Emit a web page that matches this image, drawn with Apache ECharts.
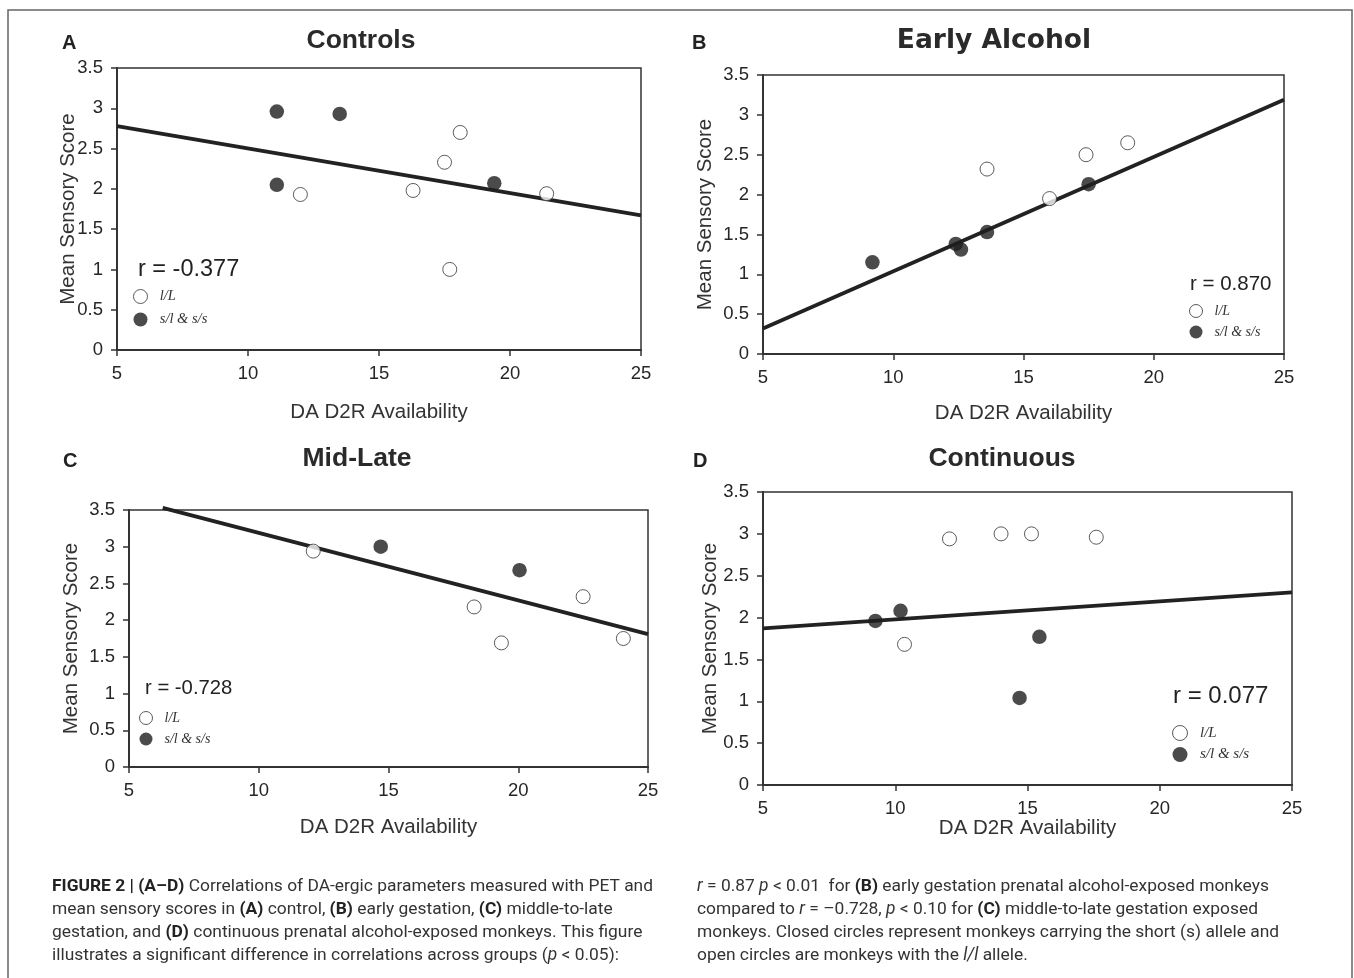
<!DOCTYPE html>
<html>
<head>
<meta charset="utf-8">
<script src="https://cdn.jsdelivr.net/npm/echarts@6/dist/echarts.min.js"></script>
<style>
html,body{margin:0;padding:0;background:#fff;}
#chart{width:1354px;height:978px;}
</style>
</head>
<body>
<div id="chart"></div>
<script>
// ---------- data ----------
const xTicks = [5, 10, 15, 20, 25];
const yTicks = [0, 0.5, 1, 1.5, 2, 2.5, 3, 3.5];
const legendNames = ['l/L', 's/l & s/s'];

const panelLetters = ['A', 'B', 'C', 'D'];
const panelTitles = ['Controls', 'Early Alcohol', 'Mid-Late', 'Continuous'];
const rLabels = ['r = -0.377', 'r = 0.870', 'r = -0.728', 'r = 0.077'];

// open circles (l/L) and filled circles (s/l & s/s): [DA D2R availability, mean sensory score]
const controlsOpen = [[12.0, 1.93], [16.3, 1.98], [17.5, 2.33], [18.1, 2.70], [21.4, 1.94], [17.7, 1.00]];
const controlsFilled = [[11.1, 2.96], [13.5, 2.93], [11.1, 2.05], [19.4, 2.07]];
const controlsFit = [[5, 2.78], [25, 1.67]];

const earlyOpen = [[13.6, 2.32], [16.0, 1.95], [17.4, 2.50], [19.0, 2.65]];
const earlyFilled = [[9.2, 1.15], [12.4, 1.38], [12.6, 1.31], [13.6, 1.53], [17.5, 2.13]];
const earlyFit = [[5, 0.32], [25, 3.19]];

const midLateOpen = [[12.1, 2.94], [18.3, 2.18], [19.35, 1.69], [22.5, 2.32], [24.05, 1.75]];
const midLateFilled = [[14.7, 3.00], [20.05, 2.68]];
const midLateFit = [[6.3, 3.53], [25, 1.81]];

const contOpen = [[10.35, 1.68], [12.05, 2.94], [14.0, 3.00], [15.15, 3.00], [17.6, 2.96]];
const contFilled = [[9.25, 1.96], [10.2, 2.08], [15.45, 1.77], [14.7, 1.04]];
const contFit = [[5, 1.87], [25, 2.30]];

const openSets = [controlsOpen, earlyOpen, midLateOpen, contOpen];
const filledSets = [controlsFilled, earlyFilled, midLateFilled, contFilled];
const fitSets = [controlsFit, earlyFit, midLateFit, contFit];

const xName = 'DA D2R Availability';
const yName = 'Mean Sensory Score';

// ---------- layout ----------
const grids = [
  {left: 117, top: 68, width: 524, height: 282},
  {left: 763, top: 75, width: 521, height: 279},
  {left: 129, top: 510, width: 519, height: 257},
  {left: 763, top: 492, width: 529, height: 293}
];
const xNameGaps = [52, 49, 50, 33];
const yNameGaps = [38, 47, 47, 42];
const legendPos = [
  {left: 133, top: 289, size: 14, font: 14.5, gap: 8},
  {left: 1189, top: 304, size: 13, font: 14, gap: 7},
  {left: 139, top: 711, size: 13, font: 14, gap: 7},
  {left: 1172, top: 725, size: 15, font: 15, gap: 6}
];
const rPos = [
  {x: 138, y: 270, size: 23.5},
  {x: 1190, y: 284, size: 20.5},
  {x: 145, y: 688, size: 20.3},
  {x: 1173, y: 696, size: 24}
];
const letterPos = [[62, 43], [692, 43], [63, 461], [693, 461]];
const titlePos = [[361, 41], [994, 41], [357, 459], [1002, 459]];

const sansFont = '"Liberation Sans", Arial, sans-serif';
const ink = '#262626';

const option = {
  backgroundColor: '#fff',
  animation: false,
  grid: grids.map(g => Object.assign({show: true, borderColor: '#333', borderWidth: 1.5, backgroundColor: 'transparent'}, g)),
  xAxis: grids.map((g, i) => ({
    gridIndex: i, type: 'value', min: xTicks[0], max: xTicks[xTicks.length - 1], interval: 5,
    name: xName, nameLocation: 'middle', nameGap: xNameGaps[i], nameMoveOverlap: false,
    nameTextStyle: {fontFamily: sansFont, fontSize: 20.5, color: '#333'},
    axisLine: {show: true, onZero: false, lineStyle: {color: '#333', width: 2}},
    axisTick: {show: true, inside: false, length: 6, lineStyle: {color: '#333', width: 1.5}},
    axisLabel: {fontFamily: sansFont, fontSize: 18.5, color: ink, margin: 14},
    splitLine: {show: false}
  })),
  yAxis: grids.map((g, i) => ({
    gridIndex: i, type: 'value', min: yTicks[0], max: yTicks[yTicks.length - 1], interval: 0.5,
    name: yName, nameLocation: 'middle', nameGap: yNameGaps[i], nameMoveOverlap: false,
    nameTextStyle: {fontFamily: sansFont, fontSize: 20.5, color: '#333'},
    axisLine: {show: true, onZero: false, lineStyle: {color: '#333', width: 2}},
    axisTick: {show: true, inside: false, length: 6, lineStyle: {color: '#333', width: 1.5}},
    axisLabel: {fontFamily: sansFont, fontSize: 18.5, color: ink, margin: 14},
    splitLine: {show: false}
  })),
  legend: legendPos.map(p => ({
    orient: 'vertical', left: p.left, top: p.top, icon: 'circle',
    itemWidth: p.size, itemHeight: p.size, itemGap: p.gap, padding: 0,
    selectedMode: false,
    formatter: name => '  ' + name,
    textStyle: {fontFamily: '"Liberation Serif", "Times New Roman", serif', fontStyle: 'italic', fontSize: p.font, color: '#333'},
    data: [
      {name: legendNames[0], itemStyle: {color: '#fff', borderColor: '#333', borderWidth: 1}},
      {name: legendNames[1], itemStyle: {color: '#1e1e1e', borderColor: '#1e1e1e', borderWidth: 0}}
    ]
  })),
  series: [],
  graphic: []
};

for (let i = 0; i < 4; i++) {
  option.series.push({
    name: 'fit ' + panelLetters[i], type: 'line', xAxisIndex: i, yAxisIndex: i,
    data: fitSets[i], symbol: 'none', clip: false, z: 2,
    lineStyle: {color: '#222', width: 3.8}
  });
  option.series.push({
    name: legendNames[0], type: 'scatter', xAxisIndex: i, yAxisIndex: i,
    data: openSets[i], symbol: 'circle', symbolSize: 14, z: 3,
    itemStyle: {color: '#fff', borderColor: '#333', borderWidth: 1}
  });
  option.series.push({
    name: legendNames[1], type: 'scatter', xAxisIndex: i, yAxisIndex: i,
    data: filledSets[i], symbol: 'circle', symbolSize: 14.5, z: 3,
    itemStyle: {color: '#1e1e1e', borderColor: '#1e1e1e', borderWidth: 0}
  });

  option.graphic.push({
    type: 'text', x: letterPos[i][0], y: letterPos[i][1],
    style: {text: panelLetters[i], fontFamily: sansFont, fontWeight: 'bold', fontSize: 20, fill: '#222', textAlign: 'left', textVerticalAlign: 'middle'}
  });
  option.graphic.push({
    type: 'text', x: titlePos[i][0], y: titlePos[i][1],
    style: {
      text: panelTitles[i],
      fontFamily: i === 1 ? '"DejaVu Sans", Verdana, sans-serif' : sansFont,
      fontWeight: 'bold', fontSize: 26.5, fill: '#2a2a2a',
      textAlign: 'center', textVerticalAlign: 'middle'
    }
  });
  option.graphic.push({
    type: 'text', x: rPos[i].x, y: rPos[i].y,
    style: {text: rLabels[i], fontFamily: sansFont, fontSize: rPos[i].size, fill: '#222', textAlign: 'left', textVerticalAlign: 'middle'}
  });
}

// frame
option.graphic.push({
  type: 'rect', shape: {x: 8, y: 10, width: 1344, height: 990}, silent: true, z: -1,
  style: {fill: 'none', stroke: '#666', lineWidth: 1.5}
});

// caption
const capFont = 'Roboto, "Liberation Sans", sans-serif';
const capSize = 17.4;
const capRich = {
  b: {fontFamily: capFont, fontWeight: 'bold', fontSize: capSize, fill: '#222'},
  i: {fontFamily: capFont, fontStyle: 'italic', fontSize: capSize, fill: '#333'}
};
const capLeft = [
  '{b|FIGURE 2 | (A–D)} Correlations of DA-ergic parameters measured with PET and',
  'mean sensory scores in {b|(A)} control, {b|(B)} early gestation, {b|(C)} middle-to-late',
  'gestation, and {b|(D)} continuous prenatal alcohol-exposed monkeys. This figure',
  'illustrates a significant difference in correlations across groups ({i|p} < 0.05):'
];
const capRight = [
  '{i|r} = 0.87 {i|p} < 0.01  for {b|(B)} early gestation prenatal alcohol-exposed monkeys',
  'compared to {i|r} = –0.728, {i|p} < 0.10 for {b|(C)} middle-to-late gestation exposed',
  'monkeys. Closed circles represent monkeys carrying the short (s) allele and',
  'open circles are monkeys with the {i|l/l} allele.'
];
const capY = [887, 910, 933, 956];
capLeft.forEach((t, k) => option.graphic.push({
  type: 'text', x: 52, y: capY[k],
  style: {text: t, rich: capRich, fontFamily: capFont, fontSize: capSize, fill: '#333', textAlign: 'left', textVerticalAlign: 'middle'}
}));
capRight.forEach((t, k) => option.graphic.push({
  type: 'text', x: 697, y: capY[k],
  style: {text: t, rich: capRich, fontFamily: capFont, fontSize: capSize, fill: '#333', textAlign: 'left', textVerticalAlign: 'middle'}
}));

const chart = echarts.init(document.getElementById('chart'), null, {renderer: 'canvas'});
chart.setOption(option);
</script>
</body>
</html>
